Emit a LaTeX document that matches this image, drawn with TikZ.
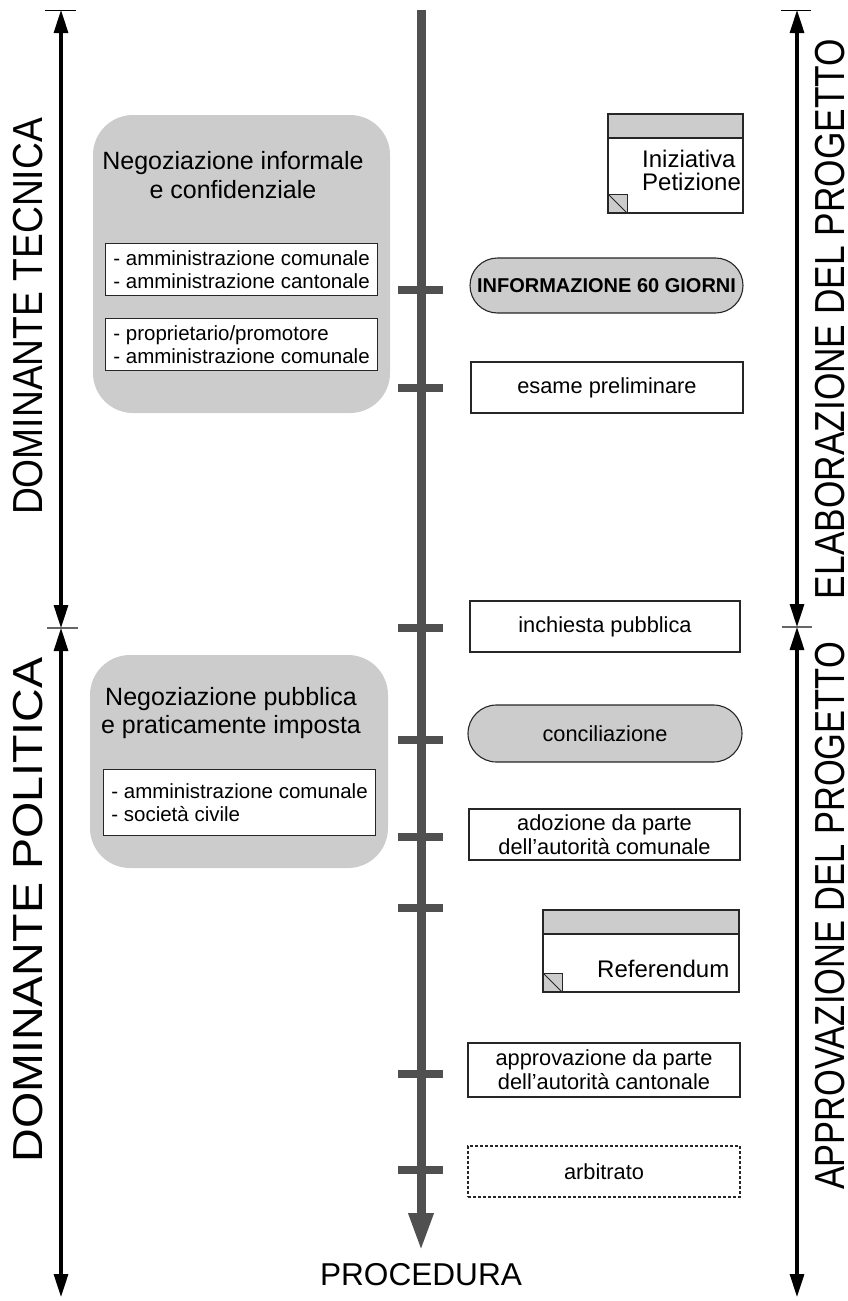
\documentclass[tikz,border=0pt]{standalone}
\usepackage{fontspec}
\setmainfont{Liberation Sans}
\usetikzlibrary{arrows.meta, positioning, shapes.misc}

\definecolor{fasegray}{HTML}{CCCCCC}
\definecolor{assegray}{HTML}{505050}

\tikzset{
  fase/.style={draw=black!85, line width=1.1pt, fill=white, minimum width=272pt, minimum height=51pt, inner sep=0pt, align=center, font=\fontsize{21.8}{24}\selectfont},
  tappa/.style={fase, rounded rectangle, fill=fasegray, minimum height=56pt},
  attori/.style={draw=black!85, line width=1.1pt, fill=white, minimum width=272pt, minimum height=52pt, inner xsep=7.5pt, inner ysep=0pt, align=left, font=\fontsize{20.5}{23}\selectfont},
  gruppo/.style={fill=fasegray, rounded corners=40pt},
  titolo/.style={align=center, inner sep=0pt, font=\fontsize{25}{28.5}\selectfont},
  doc/.style={draw=black!85, line width=1.1pt, fill=white, inner sep=0pt, path picture={
    \fill[fasegray] (path picture bounding box.north west) rectangle ([yshift=-24pt]path picture bounding box.north east);
    \draw[black!85, line width=1.1pt] ([yshift=-24pt]path picture bounding box.north west) -- ([yshift=-24pt]path picture bounding box.north east);
    \draw[black!85, line width=1pt, fill=fasegray] (path picture bounding box.south west) rectangle ([xshift=19pt,yshift=19pt]path picture bounding box.south west);
    \draw[black!85, line width=0.9pt] ([yshift=19pt]path picture bounding box.south west) -- ([xshift=19pt]path picture bounding box.south west);
  }},
  doctesto/.style={align=left, inner sep=0pt, font=\fontsize{24}{23}\selectfont},
  dominante/.style={rotate=90, inner sep=0pt, font=\fontsize{42}{48}\selectfont},
  freccia/.style={line width=3.2pt, {Triangle[length=23pt,width=14pt]}-{Triangle[length=23pt,width=14pt]}},
  barra/.style={line width=1pt},
  asse/.style={assegray, line width=9pt, -{Triangle[length=38pt,width=23pt]}},
  tacca/.style={assegray, line width=8pt},
}

\begin{document}
\begin{tikzpicture}[x=1pt, y=-1pt]
    \useasboundingbox (0,0) rectangle (848,1301);

    % side arrows
    \coordinate (tec-top) at (61,10);
    \coordinate (tec-mid) at (61,628);
    \coordinate (pol-bot) at (61,1297);
    \coordinate (ela-top) at (797,10);
    \coordinate (ela-mid) at (797,627);
    \coordinate (app-bot) at (797,1297);

    \draw[barra] ([xshift=-16pt]tec-top) -- ([xshift=15pt]tec-top);
    \draw[barra, gray!80!black, line width=2pt] ([xshift=-14pt]tec-mid) -- ([xshift=17pt]tec-mid);
    \draw[barra] ([xshift=-16pt]ela-top) -- ([xshift=14pt]ela-top);
    \draw[barra, gray!80!black, line width=1.5pt] ([xshift=-15pt]ela-mid) -- ([xshift=15pt]ela-mid);

    \draw[freccia] (tec-top) -- (tec-mid);
    \draw[freccia] (tec-mid) -- (pol-bot);
    \draw[freccia] (ela-top) -- (ela-mid);
    \draw[freccia] (ela-mid) -- (app-bot);

    \node[dominante] (dom-tec) at (28,316.5) {\scalebox{0.886}[1]{DOMINANTE TECNICA}};
    \node[dominante] (dom-pol) at (28,910) {\scalebox{1.11}[1]{DOMINANTE POLITICA}};
    \node[dominante] (ela-prog) at (830,319) {\scalebox{0.84}[1]{ELABORAZIONE DEL PROGETTO}};
    \node[dominante] (app-prog) at (830,916) {\scalebox{0.82}[1]{APPROVAZIONE DEL PROGETTO}};

    % negotiation groups
    \node[gruppo, minimum width=297pt, minimum height=298pt] (neg-tec) at (241.5,264) {};
    \node[titolo] (neg-tec-t) at (233,175) {Negoziazione informale\\e confidenziale};
    \node[attori, anchor=north west] (att-1) at (105,243) {- amministrazione comunale\\- amministrazione cantonale};
    \node[attori, anchor=north west] (att-2) at (105,318) {- proprietario/promotore\\- amministrazione comunale};

    \node[gruppo, minimum width=298pt, minimum height=213pt] (neg-pol) at (239,761.5) {};
    \node[titolo] (neg-pol-t) at (231,713) {Negoziazione pubblica\\e praticamente imposta};
    \node[attori, anchor=north west, minimum height=66pt] (att-3) at (103,769) {- amministrazione comunale\\- società civile\hfill\null};

    % procedure axis
    \coordinate (proc-top) at (421,10);
    \coordinate (proc-end) at (421,1251);
    \draw[asse] (proc-top) -- (proc-end);
    \foreach \y in {290,388,628,740,837,908,1074,1170}
        \draw[tacca] (398,\y) -- (443,\y);
    \node[anchor=base, inner sep=0pt, font=\fontsize{31.6}{36}\selectfont] (procedura) at (421,1285) {PROCEDURA};

    % steps
    \node[doc, minimum width=135pt, minimum height=99pt] (iniziativa) at (675.5,163.5) {};
    \node[doctesto, anchor=north west] (iniziativa-t) at (642,150) {Iniziativa\\Petizione};
    \node[tappa, minimum width=273pt, minimum height=55pt, font=\fontsize{20}{24}\selectfont\bfseries] (info) at (606.5,285.5) {INFORMAZIONE 60 GIORNI};
    \node[fase] (esame) at (607,387.5) {esame preliminare};
    \node[fase, minimum width=270pt] (inchiesta) at (605,626.5) {inchiesta pubblica};
    \node[tappa, minimum width=274pt, minimum height=57pt] (conciliazione) at (605,733.5) {conciliazione};
    \node[fase, minimum width=271pt] (adozione) at (604.5,834.5) {adozione da parte\\dell’autorità comunale};
    \node[doc, minimum width=196pt, minimum height=82pt] (referendum) at (641,951) {};
    \node[doctesto, anchor=base west] (referendum-t) at (597,977) {Referendum};
    \node[fase, minimum height=54pt] (approvazione) at (604,1070) {approvazione da parte\\dell’autorità cantonale};
    \node[fase, dash pattern=on 3pt off 2pt] (arbitrato) at (604,1171.5) {arbitrato};
\end{tikzpicture}
\end{document}
